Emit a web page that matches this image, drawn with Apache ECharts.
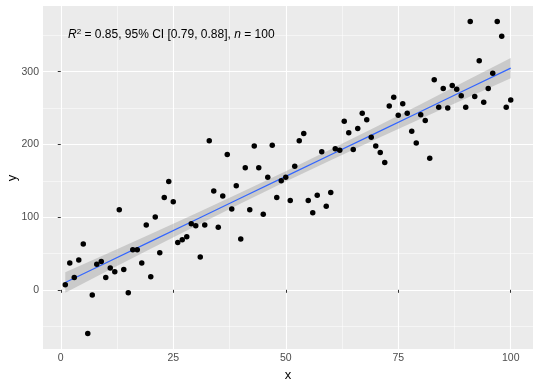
<!DOCTYPE html>
<html><head><meta charset="utf-8">
<script src="https://cdn.jsdelivr.net/npm/echarts@6/dist/echarts.min.js"></script>
<style>html,body{margin:0;padding:0;background:#fff}#c{width:540px;height:386px}</style>
</head><body><div id="c"></div>
<script>
const xValues = [1,2,3,4,5,6,7,8,9,10,11,12,13,14,15,16,17,18,19,20,21,22,23,24,25,26,27,28,29,30,31,32,33,34,35,36,37,38,39,40,41,42,43,44,45,46,47,48,49,50,51,52,53,54,55,56,57,58,59,60,61,62,63,64,65,66,67,68,69,70,71,72,73,74,75,76,77,78,79,80,81,82,83,84,85,86,87,88,89,90,91,92,93,94,95,96,97,98,99,100];
const yValues = [7,37,17,41,63,-60,-7,35,39,17,30,25,110,28,-4,55,55,37,89,18,100,51,127,149,121,65,69,73,91,88,45,89,205,136,86,129,186,111,143,70,168,110,198,168,104,155,199,127,150,155,123,170,205,215,123,106,130,190,115,134,194,192,232,216,193,222,243,234,210,198,189,175,253,265,240,256,243,218,202,241,233,181,289,251,277,250,281,276,267,251,369,266,315,258,277,298,369,349,251,261];
const fitX = [1,10,20,30,40,50,60,70,80,90,100];
const fitY = [10,36.8,66.6,96.4,126.2,156,185.8,215.6,245.4,275.2,305];
const bandLower = [-4,24.8,56.6,87.9,118.7,149,178.3,207.1,235.4,263.2,291];
const bandUpper = [24,48.8,76.6,104.9,133.7,163,193.3,224.1,255.4,287.2,319];
const xTicks = [0,25,50,75,100];
const yTicks = [0,100,200,300];
const xMinor = [12.5,37.5,62.5,87.5];
const yMinor = [-50,50,150,250,350];
const xTitle = 'x';
const yTitle = 'y';

const FONT = 'Liberation Sans, Arial, sans-serif';
const chart = echarts.init(document.getElementById('c'), null, {renderer: 'canvas'});

const points = xValues.map((x, i) => [x, yValues[i]]);
const fitLine = fitX.map((x, i) => [x, fitY[i]]);
const bandPts = fitX.map((x, i) => [x, bandLower[i], bandUpper[i]]);

function majorAxis(ticks, extra) {
  return Object.assign({
    type: 'value',
    axisLine: {show: false},
    axisTick: {show: true, customValues: ticks, length: 3, lineStyle: {color: '#333', width: 1}},
    axisLabel: {customValues: ticks, color: '#4D4D4D', fontSize: 10.5, fontFamily: FONT, margin: 4},
    splitLine: {show: true, lineStyle: {color: '#FFFFFF', width: 1.1}}
  }, extra);
}
function minorAxis(ticks, extra) {
  return Object.assign({
    type: 'value',
    axisLine: {show: false},
    axisTick: {show: false, customValues: ticks},
    axisLabel: {show: false, customValues: ticks},
    splitLine: {show: true, lineStyle: {color: '#FFFFFF', width: 0.5}}
  }, extra);
}

chart.setOption({
  animation: false,
  backgroundColor: '#FFFFFF',
  grid: {left: 43, right: 7, top: 6, bottom: 37, show: true, backgroundColor: '#EBEBEB', borderWidth: 0,
         containLabel: false, outerBoundsMode: 'none'},
  title: {
    text: '{i|R}{s|2} = 0.85, 95% CI [0.79, 0.88], {i|n} = 100',
    left: 63, top: 23,
    textStyle: {
      fontSize: 12, fontWeight: 'normal', color: '#000', fontFamily: FONT,
      rich: {
        i: {fontStyle: 'italic', fontSize: 12, color: '#000', fontFamily: FONT},
        s: {fontSize: 8, color: '#000', fontFamily: FONT, verticalAlign: 'top', padding: [0, 0, 6, 0]}
      }
    }
  },
  graphic: [
    {type: 'text', x: 288, y: 375, style: {text: xTitle, fill: '#000', font: '13px ' + FONT, align: 'center', verticalAlign: 'middle'}},
    {type: 'text', x: 12, y: 178, rotation: Math.PI / 2, style: {text: yTitle, fill: '#000', font: '13px ' + FONT, align: 'center', verticalAlign: 'middle'}}
  ],
  xAxis: [
    majorAxis(xTicks, {min: -3.95, max: 104.95, position: 'bottom'}),
    minorAxis(xMinor, {min: -3.95, max: 104.95, position: 'top'})
  ],
  yAxis: [
    majorAxis(yTicks, {min: -81.45, max: 390.45, position: 'left'}),
    minorAxis(yMinor, {min: -81.45, max: 390.45, position: 'right'})
  ],
  series: [
    {
      type: 'custom', z: 2,
      data: bandPts,
      encode: {x: 0, y: [1, 2]},
      renderItem: function (params, api) {
        if (params.dataIndex !== 0) return null;
        const top = [], bot = [];
        for (let i = 0; i < bandPts.length; i++) {
          top.push(api.coord([bandPts[i][0], bandPts[i][2]]));
          bot.push(api.coord([bandPts[i][0], bandPts[i][1]]));
        }
        return {
          type: 'polygon',
          shape: {points: top.concat(bot.reverse())},
          style: {fill: 'rgba(153,153,153,0.4)', stroke: 'none'}
        };
      }
    },
    {
      type: 'line', data: fitLine, showSymbol: false, smooth: false, z: 3,
      lineStyle: {color: '#3366FF', width: 1.2}
    },
    {
      type: 'scatter', data: points, symbolSize: 5.5,
      itemStyle: {color: '#000000', opacity: 1}, z: 4
    }
  ]
});
</script></body></html>
